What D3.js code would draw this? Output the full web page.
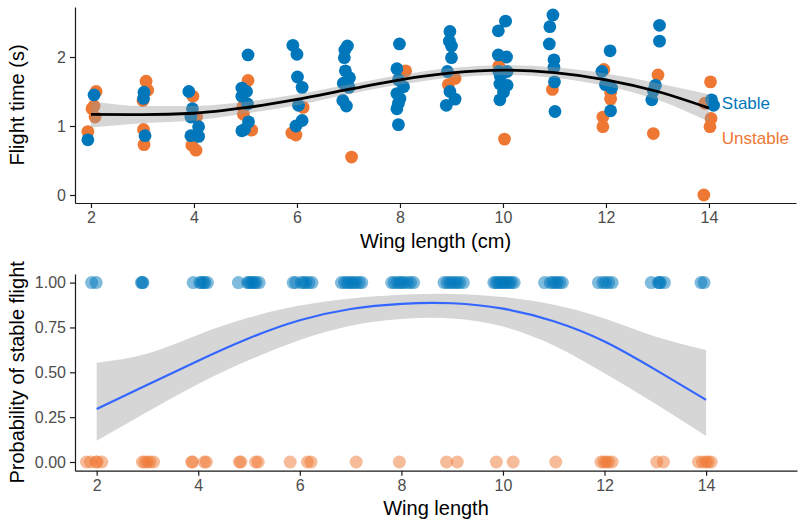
<!DOCTYPE html>
<html>
<head>
<meta charset="utf-8">
<script src="https://cdn.jsdelivr.net/npm/d3@7"></script>
<style>
  body { margin: 0; background: #fff; }
  svg { display: block; font-family: "Liberation Sans", Arial, sans-serif; }
  .axis path, .axis line { stroke: #1a1a1a; stroke-width: 1.2; }
  .axis text { fill: #4d4d4d; font-size: 16px; font-family: "Liberation Sans", Arial, sans-serif; }
  .title { font-size: 20px; fill: #000; }
</style>
</head>
<body>
<div id="chart"></div>
<script>
// ---- top panel: flight time by wing length (x already jittered)
const stableWing = [1.94,2.06, 3.03,3.02,3.05, 3.90,3.97,3.94,4.09,3.94,4.09,
  5.05,4.93,5.02,4.93,5.04,5.06,4.93,4.98, 5.92,6.00,6.01,6.10,6.03,6.10,5.98,
  6.98,6.93,6.92,6.94,7.02,6.90,7.01,6.89,6.96, 7.99,7.94,7.97,8.07,7.94,8.00,7.97,7.94,7.97,
  8.97,8.96,9.00,9.00,8.92,8.97,9.07,8.90, 10.05,9.91,9.91,10.07,9.92,10.08,9.95,9.94,10.08,10.01,9.94,
  10.97,10.91,10.90,10.99,10.99,11.00,11.01, 12.08,11.92,11.99,12.11,12.09,
  13.04,13.04,12.96,12.92,12.89, 14.05,14.09];
const stableTime = [0.80,1.45, 1.49,1.40,0.86, 1.50,1.25,1.13,0.99,0.86,0.85,
  2.03,1.55,1.50,1.43,1.32,1.06,0.93,0.95, 2.17,2.04,1.71,1.56,1.30,1.08,1.00,
  2.16,2.10,1.99,1.80,1.70,1.62,1.56,1.37,1.29, 2.19,1.83,1.67,1.57,1.47,1.40,1.33,1.25,1.02,
  2.37,2.23,2.16,1.99,1.79,1.50,1.39,1.30, 2.52,2.38,2.03,2.00,1.79,1.79,1.72,1.61,1.59,1.49,1.38,
  2.61,2.44,2.19,1.96,1.85,1.64,1.21, 2.09,1.79,1.60,1.55,1.22,
  2.46,2.23,1.59,1.51,1.38, 1.38,1.30];
const unstableWing = [1.94,2.10,2.06,2.02,2.08, 3.07,3.10,3.01,3.02,3.03, 3.98,4.05,3.96,4.04,
  5.05,4.95,4.96,5.12, 6.12,5.90,5.98, 7.06, 8.11, 9.07,8.94, 9.92,10.03, 10.96,
  11.96,12.09,12.09,11.94,11.94, 13.01,12.92, 14.03,13.92,14.04,14.02,13.90];
const unstableTime = [0.92,1.50,1.29,1.25,1.13, 1.65,1.52,1.37,0.95,0.73, 1.43,1.13,0.72,0.65,
  1.66,1.28,1.17,0.94, 1.27,0.90,0.87, 0.55, 1.80, 1.69,1.60, 1.87,0.81, 1.53,
  1.82,1.49,1.39,1.13,0.99, 1.74,0.89, 1.64,1.33,1.11,0.99,0.00];

// loess smooth with its confidence band
const smoothX   = [2,3,4,5,6,7,8,9,10,11,12,13,14];
const smoothFit = [1.17,1.165,1.185,1.265,1.385,1.53,1.67,1.77,1.81,1.775,1.67,1.50,1.26];
const smoothLo  = [0.98,1.04,1.08,1.18,1.30,1.46,1.60,1.70,1.74,1.70,1.58,1.38,1.06];
const smoothHi  = [1.36,1.29,1.29,1.35,1.46,1.60,1.74,1.84,1.88,1.85,1.76,1.62,1.46];

const groupLabels = ["Stable", "Unstable"];
const groupLabelX = [14.25, 14.25];
const groupLabelY = [1.33, 0.82];

// ---- bottom panel: stable (1) / unstable (0), jittered wing length
const stableJitter = [1.90,1.99, 2.88,2.90,2.91, 3.90,4.03,4.06,4.10,4.13,4.18,
  4.79,4.97,5.00,5.03,5.07,5.10,5.14,5.20, 5.87,5.92,6.03,6.08,6.12,6.18,6.24,
  6.82,6.88,6.93,6.97,7.02,7.06,7.11,7.17,7.22, 7.81,7.86,7.92,7.97,8.01,8.05,8.12,8.18,8.24,
  8.84,8.90,8.95,9.00,9.05,9.10,9.15,9.22, 9.82,9.86,9.90,9.94,9.98,10.01,10.05,10.09,10.13,10.17,10.22,
  10.82,10.93,10.98,11.03,11.07,11.12,11.17, 11.88,11.97,12.02,12.08,12.15,
  12.92,13.06,13.08,13.10,13.18, 13.90,13.96];
const unstableJitter = [1.80,1.88,1.99,2.01,2.10, 2.90,2.95,3.00,3.05,3.12, 3.87,3.89,4.12,4.16,
  4.81,4.84,5.13,5.18, 5.81,6.15,6.22, 7.11, 7.96, 8.89,9.10, 9.87,10.20, 11.04,
  11.93,11.99,12.03,12.08,12.15, 13.03,13.16, 13.85,13.93,14.00,14.04,14.10];

// logistic fit with its confidence band
const logitX   = [2,3,4,5,6,7,8,9,10,11,12,13,14];
const logitFit = [0.295,0.43,0.565,0.69,0.79,0.853,0.882,0.885,0.855,0.785,0.672,0.515,0.346];
const logitLo  = [0.119,0.28,0.435,0.568,0.68,0.76,0.797,0.80,0.755,0.65,0.495,0.325,0.145];
const logitHi  = [0.553,0.605,0.71,0.805,0.872,0.912,0.932,0.937,0.92,0.877,0.80,0.70,0.625];

const wingTicks = [2,4,6,8,10,12,14];
const timeTicks = [0,1,2];
const probTicks = [0,0.25,0.5,0.75,1];

const BLUE = "#0077BB", ORANGE = "#EE7733";
const W = 799, H = 522;

const svg = d3.select("#chart").append("svg").attr("width", W).attr("height", H);

function styleAxis(g) {
  g.attr("class", "axis").attr("font-size", null).attr("font-family", null);
}

// ================= top panel =================
const P1 = { l: 75, r: 796, t: 7, b: 203 };
const x1 = d3.scaleLinear().domain([1.69, 15.69]).range([P1.l, P1.r]);
const y1 = d3.scaleLinear().domain([-0.116, 2.725]).range([P1.b, P1.t]);

const p1 = svg.append("g");
const unstablePts = unstableWing.map((w, i) => ({ w, t: unstableTime[i] }));
const stablePts = stableWing.map((w, i) => ({ w, t: stableTime[i] }));

p1.selectAll(".u").data(unstablePts).join("circle")
  .attr("cx", d => x1(d.w)).attr("cy", d => y1(d.t)).attr("r", 6.4).attr("fill", ORANGE);
p1.selectAll(".s").data(stablePts).join("circle")
  .attr("cx", d => x1(d.w)).attr("cy", d => y1(d.t)).attr("r", 6.4).attr("fill", BLUE);

const band1 = smoothX.map((x, i) => ({ x, lo: smoothLo[i], hi: smoothHi[i], f: smoothFit[i] }));
p1.append("path").datum(band1)
  .attr("d", d3.area().x(d => x1(d.x)).y0(d => y1(d.lo)).y1(d => y1(d.hi)).curve(d3.curveMonotoneX))
  .attr("fill", "#999").attr("fill-opacity", 0.4);
p1.append("path").datum(band1)
  .attr("d", d3.line().x(d => x1(d.x)).y(d => y1(d.f)).curve(d3.curveMonotoneX))
  .attr("fill", "none").attr("stroke", "#000").attr("stroke-width", 2.8);

groupLabels.forEach((t, i) => {
  p1.append("text").attr("x", x1(groupLabelX[i])).attr("y", y1(groupLabelY[i]))
    .attr("dominant-baseline", "central").attr("font-size", "17px")
    .attr("fill", i === 0 ? BLUE : ORANGE).text(t);
});

p1.append("g").attr("transform", `translate(0,${P1.b})`)
  .call(d3.axisBottom(x1).tickValues(wingTicks).tickSize(5).tickSizeOuter(0).tickPadding(4))
  .call(styleAxis);
p1.append("g").attr("transform", `translate(${P1.l},0)`)
  .call(d3.axisLeft(y1).tickValues(timeTicks).tickFormat(d3.format("d"))
    .tickSize(5).tickSizeOuter(0).tickPadding(4))
  .call(styleAxis);

p1.append("text").attr("class", "title").attr("x", (P1.l + P1.r) / 2).attr("y", 248)
  .attr("text-anchor", "middle").text("Wing length (cm)");
p1.append("text").attr("class", "title").attr("transform", "rotate(-90)")
  .attr("x", -(P1.t + P1.b) / 2).attr("y", 24).attr("text-anchor", "middle")
  .text("Flight time (s)");

// ================= bottom panel =================
const P2 = { l: 75, r: 797, t: 274, b: 470.7 };
const x2 = d3.scaleLinear().domain([1.573, 15.79]).range([P2.l, P2.r]);
const y2 = d3.scaleLinear().domain([-0.0485, 1.048]).range([P2.b, P2.t]);

const p2 = svg.append("g");
p2.selectAll(".s").data(stableJitter).join("circle")
  .attr("cx", d => x2(d)).attr("cy", y2(1)).attr("r", 6.5)
  .attr("fill", BLUE).attr("fill-opacity", 0.5);
p2.selectAll(".u").data(unstableJitter).join("circle")
  .attr("cx", d => x2(d)).attr("cy", y2(0)).attr("r", 6.5)
  .attr("fill", ORANGE).attr("fill-opacity", 0.5);

const band2 = logitX.map((x, i) => ({ x, lo: logitLo[i], hi: logitHi[i], f: logitFit[i] }));
p2.append("path").datum(band2)
  .attr("d", d3.area().x(d => x2(d.x)).y0(d => y2(d.lo)).y1(d => y2(d.hi)).curve(d3.curveNatural))
  .attr("fill", "#999").attr("fill-opacity", 0.4);
p2.append("path").datum(band2)
  .attr("d", d3.line().x(d => x2(d.x)).y(d => y2(d.f)).curve(d3.curveNatural))
  .attr("fill", "none").attr("stroke", "#3366FF").attr("stroke-width", 2.2);

p2.append("g").attr("transform", `translate(0,${P2.b})`)
  .call(d3.axisBottom(x2).tickValues(wingTicks).tickSize(5).tickSizeOuter(0).tickPadding(4))
  .call(styleAxis);
p2.append("g").attr("transform", `translate(${P2.l},0)`)
  .call(d3.axisLeft(y2).tickValues(probTicks).tickFormat(d3.format(".2f"))
    .tickSize(5).tickSizeOuter(0).tickPadding(4))
  .call(styleAxis);

p2.append("text").attr("class", "title").attr("x", (P2.l + P2.r) / 2).attr("y", 515)
  .attr("text-anchor", "middle").text("Wing length");
p2.append("text").attr("class", "title").attr("transform", "rotate(-90)")
  .attr("x", -(P2.t + P2.b) / 2).attr("y", 24).attr("text-anchor", "middle")
  .text("Probability of stable flight");
</script>
</body>
</html>
